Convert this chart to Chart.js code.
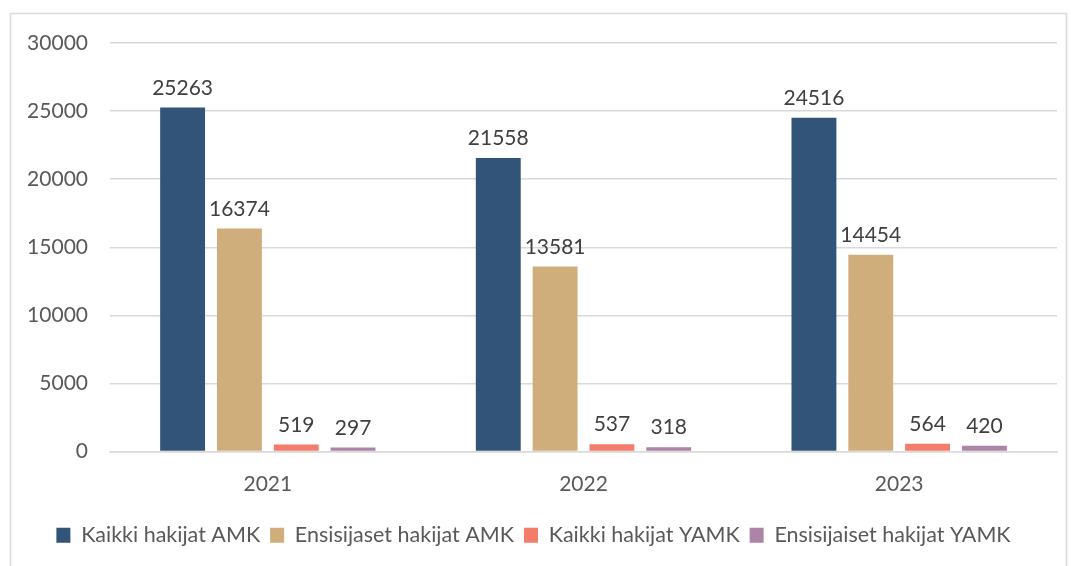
<!DOCTYPE html>
<html><head><meta charset="utf-8">
<script src="https://cdn.jsdelivr.net/npm/chart.js@4"></script>
<style>html,body{margin:0;padding:0;background:#fff}#wrap{position:relative;width:1071px;height:566px}</style>
</head><body><div id="wrap"><canvas id="c" width="1071" height="566"></canvas></div>
<script>
const categories = ["2021", "2022", "2023"];
const kaikkiAMK = [25263, 21558, 24516];
const ensisijaisetAMK = [16374, 13581, 14454];
const kaikkiYAMK = [519, 537, 564];
const ensisijaisetYAMK = [297, 318, 420];
const seriesNames = ["Kaikki hakijat AMK", "Ensisijaset hakijat AMK", "Kaikki hakijat YAMK", "Ensisijaiset hakijat YAMK"];
const yTicks = [0, 5000, 10000, 15000, 20000, 25000, 30000];

const FONT = "Lato, 'Open Sans', sans-serif";

const valueLabels = {
  id: 'valueLabels',
  afterDatasetsDraw(chart) {
    const ctx = chart.ctx;
    ctx.save();
    ctx.font = "21px " + FONT;
    ctx.fillStyle = "#404040";
    ctx.textAlign = "center";
    ctx.textBaseline = "bottom";
    chart.data.datasets.forEach((ds, i) => {
      chart.getDatasetMeta(i).data.forEach((bar, j) => {
        ctx.fillText(String(ds.data[j]), bar.x, bar.y - 9);
      });
    });
    ctx.restore();
  }
};
const frame = {
  id: 'frame',
  beforeDraw(chart) {
    const ctx = chart.ctx;
    ctx.save();
    ctx.strokeStyle = "#d9d9d9";
    ctx.lineWidth = 1.5;
    ctx.strokeRect(10.5, 13.5, 1056, 560);
    ctx.restore();
  }
};

new Chart(document.getElementById('c'), {
  type: 'bar',
  data: {
    labels: categories,
    datasets: [
      { label: seriesNames[0], data: kaikkiAMK, backgroundColor: "#335479" },
      { label: seriesNames[1], data: ensisijaisetAMK, backgroundColor: "#cfae7b" },
      { label: seriesNames[2], data: kaikkiYAMK, backgroundColor: "#f47c6a" },
      { label: seriesNames[3], data: ensisijaisetYAMK, backgroundColor: "#ad83a8" }
    ]
  },
  options: {
    responsive: false,
    animation: false,
    devicePixelRatio: 1,
    layout: { padding: { left: 10, right: 14, top: 43, bottom: 10 } },
    datasets: { bar: { barPercentage: 0.79, categoryPercentage: 0.72 } },
    plugins: {
      legend: {
        position: 'bottom',
        labels: {
          font: { family: FONT, size: 21.5 },
          color: "#595959",
          boxWidth: 14, boxHeight: 15,
          padding: 10
        }
      },
      tooltip: { enabled: false }
    },
    scales: {
      x: {
        grid: { display: false },
        border: { color: "#d9d9d9", width: 1.5 },
        ticks: { font: { family: FONT, size: 21 }, color: "#595959", padding: 12 },
        afterFit(s) { s.height = 63; }
      },
      y: {
        min: 0, max: 30000,
        afterBuildTicks(s) { s.ticks = yTicks.map(v => ({ value: v })); },
        grid: { color: "#d9d9d9", lineWidth: 1.5, drawTicks: false },
        border: { display: false },
        ticks: { font: { family: FONT, size: 21 }, color: "#595959", padding: 22, callback: v => String(v) },
        afterFit(s) { s.width = 100; }
      }
    }
  },
  plugins: [valueLabels, frame]
});
</script>
</body></html>
